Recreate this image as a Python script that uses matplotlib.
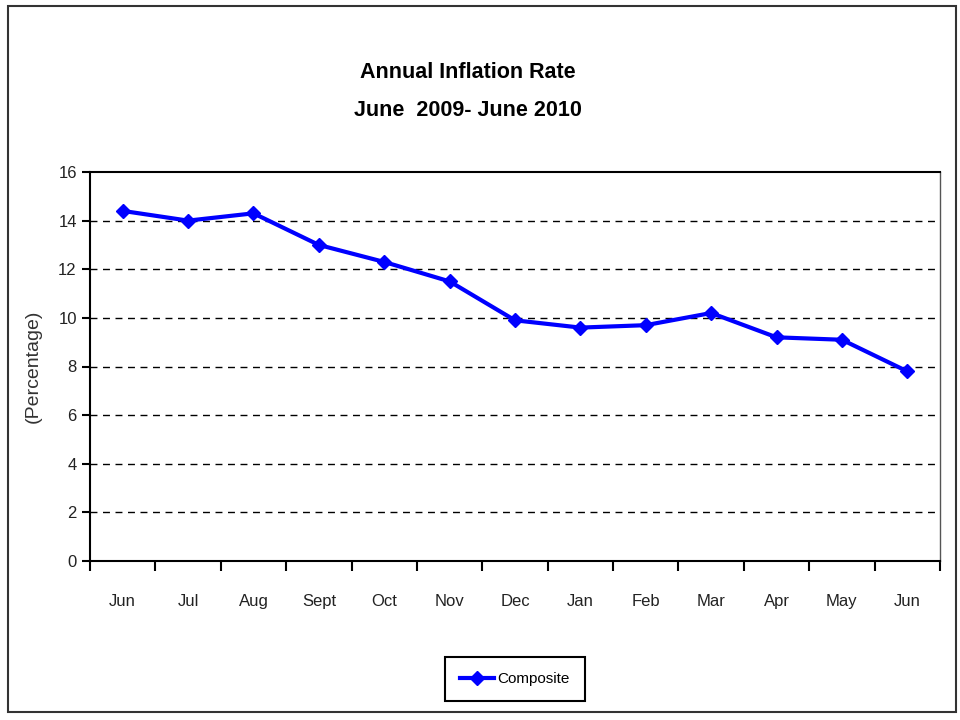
import matplotlib.pyplot as plt
from matplotlib.patches import Rectangle

months = ["Jun", "Jul", "Aug", "Sept", "Oct", "Nov", "Dec",
          "Jan", "Feb", "Mar", "Apr", "May", "Jun"]
composite = [14.4, 14.0, 14.3, 13.0, 12.3, 11.5, 9.9,
             9.6, 9.7, 10.2, 9.2, 9.1, 7.8]
yticks = [0, 2, 4, 6, 8, 10, 12, 14, 16]

plt.rcParams["font.family"] = ["Liberation Sans", "DejaVu Sans"]

fig = plt.figure(figsize=(9.6, 7.2), dpi=100)
ax = fig.add_axes([90 / 960, 1 - 561 / 720, 850 / 960, 389 / 720])

x = list(range(len(months)))
ax.plot(x, composite, color="#0000ff", lw=3, marker="D", ms=7, label="Composite")

ax.set_xlim(-0.5, len(months) - 0.5)
ax.set_ylim(0, 16)
ax.set_yticks(yticks)
ax.set_xticks(x)
ax.set_xticklabels(months)
ax.set_xticks([i - 0.5 for i in range(len(months) + 1)], minor=True)
ax.tick_params(axis="x", which="major", length=0, pad=24, labelsize=12, labelcolor="#222222")
ax.tick_params(axis="x", which="minor", length=7, width=1.5, direction="out")
ax.tick_params(axis="y", length=6, width=1.5, direction="out", labelsize=12, labelcolor="#222222")
for y in yticks[1:-1]:
    ax.axhline(y, color="black", lw=1, ls=(0, (5, 4)), zorder=0)

for s in ["left", "bottom", "top"]:
    ax.spines[s].set_linewidth(1.5)
ax.spines["right"].set_linewidth(1)
ax.spines["right"].set_color("#555555")

ax.set_ylabel("(Percentage)", fontsize=14, color="#333333", labelpad=12)

fig.text(468 / 960, 1 - 73 / 720, "Annual Inflation Rate", ha="center", va="center",
         fontsize=15.5, fontweight="bold")
fig.text(468 / 960, 1 - 111 / 720, "June  2009- June 2010", ha="center", va="center",
         fontsize=15.5, fontweight="bold")

leg = fig.legend(loc="center", bbox_to_anchor=(515 / 960, 1 - 679 / 720), fontsize=11,
                 fancybox=False, edgecolor="black", framealpha=1, handlelength=2.2,
                 borderpad=1.0, handletextpad=0.2, borderaxespad=0)
leg.get_frame().set_linewidth(1.5)

fig.patches.append(Rectangle((8 / 960, 1 - 712 / 720), 948 / 960, 706 / 720,
                             transform=fig.transFigure, fill=False,
                             edgecolor="#333333", lw=1.5))

fig.savefig("out.png", dpi=100)
